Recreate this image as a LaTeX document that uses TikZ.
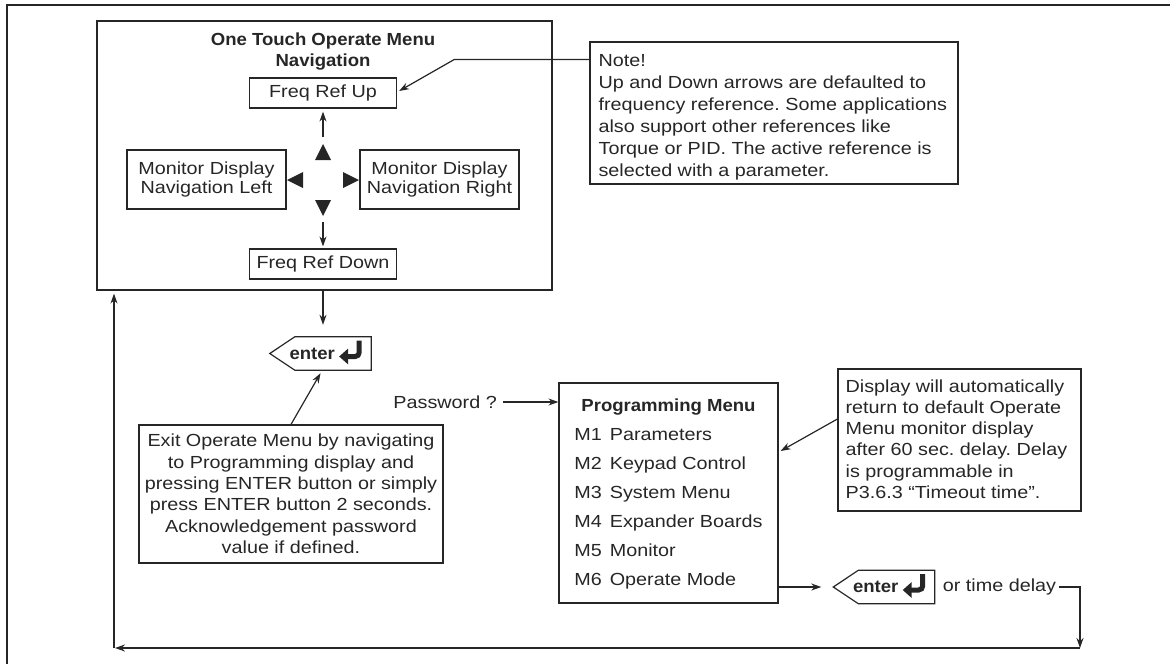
\documentclass[tikz,border=0pt]{standalone}
\usepackage{fontspec}
\setmainfont{Liberation Sans}[FakeStretch=1.13]
\newfontfamily\boldf{Liberation Sans Bold}[FakeStretch=1.06]
\usetikzlibrary{arrows.meta,positioning,calc}
\newcommand{\fs}{\fontsize{17.5}{21.4}\selectfont}
\newcommand{\fsnav}{\fontsize{17.5}{19.5}\selectfont}

\begin{document}
\frenchspacing
\begin{tikzpicture}[x=1pt, y=-1pt, color=black!85,
    box/.style={draw, line width=1.2pt, inner sep=0pt, align=center, font=\fs},
    navbox/.style={box, font=\fsnav},
    notetext/.style={inner sep=0pt, align=left, anchor=north west},
    key/.style={inner sep=0pt, minimum width=101pt, minimum height=33pt, font=\fs\boldf},
    arr/.style={-{Stealth[length=10pt,width=7pt]}, line width=1.2pt},
    line/.style={line width=1.2pt},
    plain/.style={font=\fs, inner sep=0pt}
]
\useasboundingbox (0,0) rectangle (1170,664);

% page frame
\draw[line] (7,664) -- (7,5) -- (1170,5);

% One touch operate menu
\node[box, minimum width=455pt, minimum height=269pt] (nav) at (324.5,155.5) {};
\node[font=\fs\boldf, align=center] (navtitle) at (323,51.5) {One Touch Operate Menu\\Navigation};
\node[navbox, minimum width=147pt, minimum height=30pt] (fru) at (323,93) {Freq Ref Up};
\node[navbox, minimum width=159pt, minimum height=59pt] (mdl) at (206.5,179.5) {Monitor Display\\Navigation Left};
\node[navbox, minimum width=159pt, minimum height=59pt] (mdr) at (439.5,179.5) {Monitor Display\\Navigation Right};
\node[navbox, minimum width=147pt, minimum height=30pt] (frd) at (323,264) {Freq Ref Down};

% keypad arrows
\coordinate (navc) at (323,180);
\foreach \a in {0,90,180,270}
  \fill[shift={(navc)}, rotate=\a] (20,-8) -- (36,0) -- (20,8) -- cycle;
\draw[arr] ($(navc)+(0,-43)$) -- ([yshift=-3pt]fru.south);
\draw[arr] ($(navc)+(0,42)$) -- ([yshift=2pt]frd.north);

% note on up/down
\node[box, minimum width=368pt, minimum height=142pt] (note) at (774,113) {};
\node[notetext, font=\fontsize{17.5}{22}\selectfont] (notetxt) at ([shift={(9,13)}]note.north west) {Note!\\Up and Down arrows are defaulted to\\frequency reference. Some applications\\also support other references like\\Torque or PID. The active reference is\\selected with a parameter.};
\draw[arr] ([yshift=-18pt]note.north west) -- ++(-135,0) -- ([xshift=2pt,yshift=2pt]fru.east);

% enter keys
\node[key] (enter1) at (320.5,353.5) {\makebox[62pt][l]{enter}};
\node[key] (enter2) at (884,587) {\makebox[62pt][l]{enter}};
\foreach \k in {enter1,enter2} {
  \draw[line] (\k.north east) -- (\k.south east) -- ([xshift=25pt]\k.south west)
    -- (\k.west) -- ([xshift=25pt]\k.north west) -- cycle;
  \draw[line width=5pt, rounded corners=4pt] ([shift={(-12,-13)}]\k.east)
    -- ([shift={(-12,3)}]\k.east) -- ([shift={(-24,3)}]\k.east);
  \fill ([shift={(-23,-5)}]\k.east) -- ([shift={(-32,3)}]\k.east)
    -- ([shift={(-23,11)}]\k.east) -- cycle;
}
\draw[arr] (nav.south -| navc) -- ([yshift=12pt]enter1.north -| navc);

% exit note
\node[box, minimum width=304pt, minimum height=138pt] (exit) at (291,494) {Exit Operate Menu by navigating\\to Programming display and\\pressing ENTER button or simply\\press ENTER button 2 seconds.\\Acknowledgement password\\value if defined.};
\draw[arr] (exit.north) -- ([yshift=-3pt]enter1.south);

% programming menu
\node[box, minimum width=219pt, minimum height=220pt] (prog) at (668.5,493) {\fontsize{17.5}{29}\selectfont
  \begin{tabular}{@{}l@{\hspace{8pt}}l@{}}
  \multicolumn{2}{@{}c@{}}{\boldf Programming Menu}\\
  M1 & Parameters\\
  M2 & Keypad Control\\
  M3 & System Menu\\
  M4 & Expander Boards\\
  M5 & Monitor\\
  M6 & Operate Mode
  \end{tabular}};
\node[plain, anchor=east] (pwd) at (497,402) {Password ?};
\draw[arr] ([xshift=6pt]pwd.east) -- (pwd.east -| prog.west);

% timeout note
\node[box, minimum width=243pt, minimum height=142pt] (disp) at (959.5,440) {};
\node[notetext, font=\fontsize{17.5}{21.2}\selectfont] (disptxt) at ([shift={(8,11)}]disp.north west) {Display will automatically\\return to default Operate\\Menu monitor display\\after 60 sec. delay. Delay\\is programmable in\\P3.6.3 ``Timeout time''.};
\draw[arr] ([yshift=21pt]disp.west) -- ([xshift=2pt,yshift=42pt]prog.east);

% return path
\draw[arr] (prog.east |- enter2) -- ([xshift=-12pt]enter2.west);
\node[plain, right=8pt of enter2] (otd) {or time delay};
\coordinate (rt) at (1080,648);
\coordinate (lb) at (114,648);
\draw[arr] ([xshift=3pt]otd.east) -| (rt);
\draw[arr] (rt) -- ([xshift=1pt]lb);
\draw[arr] (lb) -- ([yshift=-3pt]nav.south -| lb);
\end{tikzpicture}
\end{document}
